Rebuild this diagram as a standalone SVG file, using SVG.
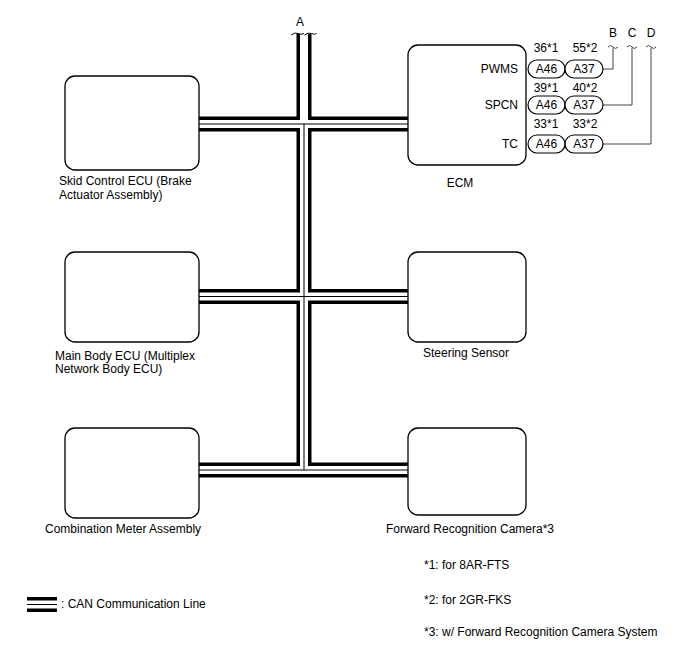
<svg xmlns="http://www.w3.org/2000/svg" width="688" height="658" viewBox="0 0 688 658">
<style>
text{font-family:"Liberation Sans",Arial,sans-serif;font-size:12px;fill:#000}
.box{fill:#fff;stroke:#000;stroke-width:1.3}
.pill{fill:#fff;stroke:#000;stroke-width:1.2}
.busK{fill:none;stroke:#000;stroke-width:15}
.busW{fill:none;stroke:#fff;stroke-width:8}
.busC{fill:none;stroke:#000;stroke-width:1}
.wire{fill:none;stroke:#444;stroke-width:1}
.mid{text-anchor:middle}
.end{text-anchor:end}
</style>
<g id="connectors">
<path class="busK" d="M199,124H408M199,296.5H408M199,470H408M304,34V470"/>
<path class="busW" d="M199,124H408M199,296.5H408M199,470H408M304,34V470"/>
<path class="busC" d="M199,124H408M199,296.5H408M199,470H408M304,124V470"/>
<path fill="none" stroke="#000" stroke-width="1" d="M291,35q3.5,-3 7,-1.5q3.5,1.5 6,0M304.5,35q3.5,-3 7,-1.5q3.5,1.5 5,0"/>
<path class="wire" d="M603,69H613V48M603,105H632V48M603,144H651V48"/>
<path class="wire" d="M608,47q2.5,-3 5,0q2.5,3 5,0M627,47q2.5,-3 5,0q2.5,3 5,0M646,47q2.5,-3 5,0q2.5,3 5,0"/>
<text class="mid" x="300" y="26">A</text>
<text class="mid" x="613" y="37">B</text>
<text class="mid" x="632" y="37">C</text>
<text class="mid" x="651" y="37">D</text>
</g>
<g id="skid">
<rect class="box" x="65" y="76" width="134" height="94" rx="10"/>
<text x="59" y="185">Skid Control ECU (Brake</text>
<text x="59" y="199">Actuator Assembly)</text>
</g>
<g id="mainbody">
<rect class="box" x="65" y="252" width="134" height="90" rx="10"/>
<text x="55" y="360">Main Body ECU (Multiplex</text>
<text x="55" y="373">Network Body ECU)</text>
</g>
<g id="combo">
<rect class="box" x="65" y="428" width="134" height="90" rx="10"/>
<text x="45" y="533">Combination Meter Assembly</text>
</g>
<g id="ecm">
<rect class="box" x="408" y="45" width="118" height="120" rx="10"/>
<text class="mid" x="460" y="187">ECM</text>
<text class="end" x="518" y="73">PWMS</text>
<text class="end" x="518" y="109">SPCN</text>
<text class="end" x="518" y="148">TC</text>
<rect class="pill" x="528" y="60" width="37" height="18" rx="9"/>
<rect class="pill" x="565" y="60" width="38" height="18" rx="9"/>
<rect class="pill" x="528" y="96" width="37" height="18" rx="9"/>
<rect class="pill" x="565" y="96" width="38" height="18" rx="9"/>
<rect class="pill" x="528" y="135" width="37" height="18" rx="9"/>
<rect class="pill" x="565" y="135" width="38" height="18" rx="9"/>
<text class="mid" x="546.5" y="73">A46</text>
<text class="mid" x="584" y="73">A37</text>
<text class="mid" x="546.5" y="109">A46</text>
<text class="mid" x="584" y="109">A37</text>
<text class="mid" x="546.5" y="148">A46</text>
<text class="mid" x="584" y="148">A37</text>
<text class="mid" x="546" y="52">36*1</text>
<text class="mid" x="585" y="52">55*2</text>
<text class="mid" x="546" y="92">39*1</text>
<text class="mid" x="585" y="92">40*2</text>
<text class="mid" x="546" y="128">33*1</text>
<text class="mid" x="585" y="128">33*2</text>
</g>
<g id="steering">
<rect class="box" x="408" y="252" width="118" height="90" rx="10"/>
<text class="mid" x="466" y="357">Steering Sensor</text>
</g>
<g id="camera">
<rect class="box" x="408" y="428" width="118" height="87" rx="10"/>
<text class="mid" x="470" y="533">Forward Recognition Camera*3</text>
</g>
<g id="notes">
<text x="424" y="569">*1: for 8AR-FTS</text>
<text x="424" y="604">*2: for 2GR-FKS</text>
<text x="424" y="636">*3: w/ Forward Recognition Camera System</text>
</g>
<g id="legend">
<path class="busK" d="M27,604.5H57"/>
<path class="busW" d="M27,604.5H57"/>
<path class="busC" d="M27,604.5H57"/>
<text x="61" y="608">: CAN Communication Line</text>
</g>
</svg>
